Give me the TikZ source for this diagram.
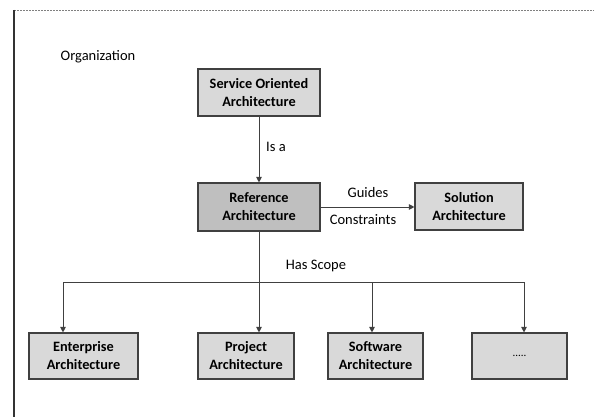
\documentclass[tikz,border=0pt]{standalone}
\usepackage{fontspec}
\setmainfont{Carlito}
\usetikzlibrary{arrows.meta}
\definecolor{boxgray}{HTML}{D9D9D9}
\definecolor{refgray}{HTML}{BFBFBF}
\definecolor{linegray}{HTML}{404040}
\begin{document}
\begin{tikzpicture}[x=1pt,y=-1pt,
  font=\fontsize{14.5}{17}\selectfont,
  box/.style={draw=linegray, line width=1.1pt, fill=boxgray, align=center, inner sep=0pt,
    font=\fontsize{14.3}{18}\selectfont\bfseries},
  conn/.style={draw=linegray, line width=0.9pt, -{Triangle[length=5.5pt,width=5.5pt]}},
  lab/.style={inner sep=0pt}]
\useasboundingbox (0,0) rectangle (594,417);
\fill[white] (0,0) rectangle (594,417);
\draw[gray, dash pattern=on 2pt off 1pt, line width=0.8pt] (14,10) -- (594,10);
\draw[black!80, line width=1.1pt] (14,10) -- (14,417);

\node[lab] (org) at (98,57) {Organization};
\node[box, minimum width=122, minimum height=47] (soa) at (259,92.5) {Service Oriented\\Architecture};
\node[box, fill=refgray, minimum width=122, minimum height=48] (ref) at (259,207) {Reference\\Architecture};
\node[box, minimum width=108, minimum height=47] (sol) at (469,206.5) {Solution\\Architecture};
\node[box, minimum width=109, minimum height=46] (ent) at (83.5,356) {Enterprise\\Architecture};
\node[box, minimum width=96, minimum height=46] (proj) at (246,356) {Project\\Architecture};
\node[box, minimum width=95, minimum height=46] (soft) at (375.5,356) {Software\\Architecture};
\node[box, minimum width=95, minimum height=46, font=\fontsize{11}{12}\selectfont] (dots) at (519.5,356) {.....};

\draw[conn] (soa) -- (ref);
\node[lab] (isa) at (276,147) {Is a};
\draw[conn] (ref.east) -- (ref.east -| sol.west);
\node[lab] (guides) at (368,193) {Guides};
\node[lab] (constr) at (363,220) {Constraints};
\draw[conn] (ref.south) -- (ref.south |- proj.north);
\node[lab] (scope) at (316,266) {Has Scope};
\path (ref.south) ++(0,51) coordinate (bus);
\draw[conn] (bus) -| ([xshift=-20.5]ent.north);
\draw[conn] (bus) -| ([xshift=-3.5]soft.north);
\draw[conn] (bus) -| ([xshift=4.5]dots.north);
\end{tikzpicture}
\end{document}
